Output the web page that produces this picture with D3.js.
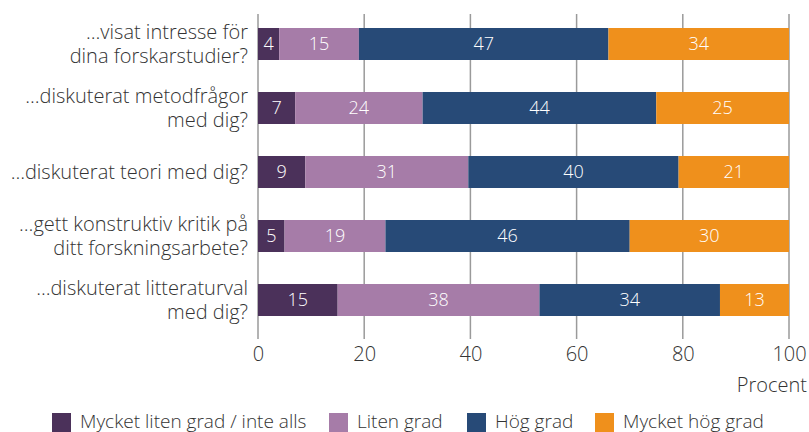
<!DOCTYPE html>
<html>
<head>
<meta charset="utf-8">
<script src="https://d3js.org/d3.v7.min.js"></script>
<style>
  body { margin: 0; background: #fff; }
  text { font-family: "Open Sans", Lato, sans-serif; font-weight: 300; }
</style>
</head>
<body>
<div id="chart"></div>
<script>
    // data
    var categories = [
        ["…visat intresse för", "dina forskarstudier?"],
        ["…diskuterat metodfrågor", "med dig?"],
        ["…diskuterat teori med dig?"],
        ["…gett konstruktiv kritik på", "ditt forskningsarbete?"],
        ["…diskuterat litteraturval", "med dig?"]
    ]
    var seriesNames = ["Mycket liten grad / inte alls", "Liten grad", "Hög grad", "Mycket hög grad"]
    var mycketLiten = [4, 7, 9, 5, 15]
    var liten = [15, 24, 31, 19, 38]
    var hog = [47, 44, 40, 46, 34]
    var mycketHog = [34, 25, 21, 30, 13]
    var tickValues = [0, 20, 40, 60, 80, 100]
    var colors = ["#4b315a", "#a67ca8", "#274a77", "#ef901c"]

    var width = 809, height = 432
    var svg = d3.select("#chart")
        .append("svg")
        .attr("width", width)
        .attr("height", height)

    var x = d3.scaleLinear().domain([0, 100]).range([258, 789])
    var y = d3.scaleBand().domain(d3.range(categories.length)).range([12, 332]).paddingInner(0.5).paddingOuter(0.25)

    // rows normalised to 100 (rounded values can sum to 101)
    var rows = categories.map(function (c, i) {
        var vals = [mycketLiten[i], liten[i], hog[i], mycketHog[i]]
        var tot = d3.sum(vals)
        var obj = { index: i }
        vals.forEach(function (v, k) { obj["s" + k] = v / tot * 100; obj["v" + k] = v })
        return obj
    })
    var stack = d3.stack().keys(["s0", "s1", "s2", "s3"])(rows)

    // grid lines
    svg.append("g")
        .selectAll("line")
        .data(tickValues)
        .enter().append("line")
        .attr("x1", function (d) { return x(d) })
        .attr("x2", function (d) { return x(d) })
        .attr("y1", 14)
        .attr("y2", 339)
        .attr("stroke", "#9a9a9a")
        .attr("stroke-width", 1.5)

    // bars
    var layers = svg.append("g").selectAll("g")
        .data(stack)
        .enter().append("g")
        .attr("fill", function (d, i) { return colors[i] })

    layers.selectAll("rect")
        .data(function (d) { return d })
        .enter().append("rect")
        .attr("x", function (d) { return x(d[0]) })
        .attr("width", function (d) { return x(d[1]) - x(d[0]) })
        .attr("y", function (d) { return y(d.data.index) })
        .attr("height", y.bandwidth())

    // value labels
    stack.forEach(function (layer, k) {
        svg.append("g").selectAll("text")
            .data(layer)
            .enter().append("text")
            .attr("x", function (d) { return (x(d[0]) + x(d[1])) / 2 })
            .attr("y", function (d) { return y(d.data.index) + y.bandwidth() / 2 })
            .attr("dy", "0.36em")
            .attr("text-anchor", "middle")
            .attr("fill", "#fff")
            .style("font-size", "18px")
            .text(function (d) { return d.data["v" + k] })
    })

    // category labels
    var catLabels = svg.append("g").selectAll("text")
        .data(categories)
        .enter().append("text")
        .attr("text-anchor", "end")
        .attr("fill", "#333")
        .style("font-size", "20px")
        .attr("y", function (d, i) { return y(i) + y.bandwidth() / 2 })

    catLabels.selectAll("tspan")
        .data(function (d) { return d })
        .enter().append("tspan")
        .attr("x", 248)
        .attr("dy", function (d, j, all) {
            var off = -(all.length - 1) * 12
            return j === 0 ? (off / 20 + 0.36) + "em" : "24px"
        })
        .text(function (d) { return d })

    // x axis
    var axis = svg.append("g")
        .attr("transform", "translate(0,339)")
        .call(d3.axisBottom(x).tickValues(tickValues).tickSize(0).tickPadding(8))
    axis.select(".domain").remove()
    axis.selectAll("text")
        .attr("fill", "#333")
        .style("font-size", "20px")
        .style("font-family", "'Open Sans', sans-serif")
        .style("font-weight", 300)

    svg.append("text")
        .attr("x", 807)
        .attr("y", 392)
        .attr("text-anchor", "end")
        .attr("fill", "#333")
        .style("font-size", "20px")
        .text("Procent")

    // legend
    var legendX = [52, 329, 467, 595]
    var legend = svg.append("g").selectAll("g")
        .data(seriesNames)
        .enter().append("g")
        .attr("transform", function (d, i) { return "translate(" + legendX[i] + ",413)" })
    legend.append("rect")
        .attr("width", 19)
        .attr("height", 19)
        .attr("fill", function (d, i) { return colors[i] })
    legend.append("text")
        .attr("x", 28)
        .attr("y", 15)
        .attr("fill", "#333")
        .style("font-size", "19px")
        .text(function (d) { return d })
</script>
</body>
</html>
